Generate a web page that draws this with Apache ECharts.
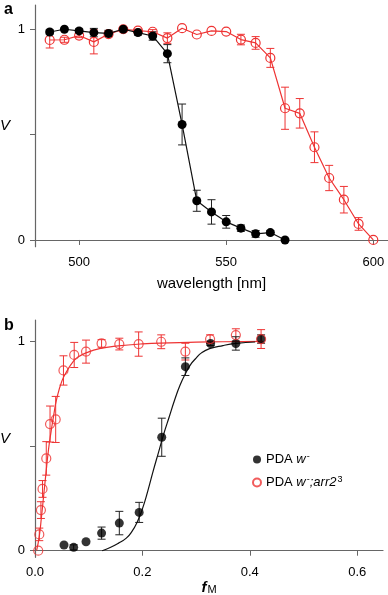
<!DOCTYPE html>
<html>
<head>
<meta charset="utf-8">
<script src="https://cdn.jsdelivr.net/npm/echarts@6/dist/echarts.min.js"></script>
<style>
  html, body { margin: 0; padding: 0; background: #fff; }
  #chart { width: 388px; height: 595px; }
</style>
</head>
<body>
<div id="chart"></div>
<script>
// panel a: spectral sensitivity
const waveA = [490, 495, 500, 505, 510, 515, 520, 525, 530, 535, 540, 545, 550, 555, 560, 565, 570, 575, 580, 585, 590, 595, 600];
const blackA = [0.987, 1.0, 0.992, 0.984, 0.98, 1.0, 0.984, 0.968, 0.884, 0.548, 0.186, 0.133, 0.086, 0.056, 0.029, 0.035, 0];
const blackAErr = [0.01, 0, 0.01, 0.02, 0.015, 0, 0.012, 0.02, 0.043, 0.097, 0.05, 0.058, 0.03, 0.015, 0.016, 0.01, 0];
const redA = [0.949, 0.95, 0.97, 0.94, 0.977, 1.0, 0.993, 0.988, 0.958, 1.005, 0.975, 0.992, 0.989, 0.951, 0.935, 0.864, 0.625, 0.601, 0.44, 0.294, 0.191, 0.076, 0];
const redAErr = [0.038, 0.012, 0.01, 0.057, 0.01, 0, 0.008, 0.01, 0.025, 0, 0, 0, 0, 0.025, 0.03, 0.045, 0.1, 0.07, 0.073, 0.06, 0.063, 0.03, 0];

// panel b: V vs fM
const fmBlack = [0.054, 0.072, 0.095, 0.124, 0.157, 0.194, 0.236, 0.28, 0.327, 0.374, 0.421];
const vBlack = [0.027, 0.016, 0.043, 0.084, 0.132, 0.183, 0.542, 0.879, 0.99, 0.99, 1.011];
const eBlack = [0, 0.012, 0, 0.029, 0.056, 0.048, 0.091, 0.042, 0.01, 0.032, 0.02];
const fmRed = [0.006, 0.008, 0.011, 0.014, 0.021, 0.028, 0.0385, 0.053, 0.073, 0.095, 0.124, 0.157, 0.193, 0.235, 0.28, 0.326, 0.374, 0.421];
const vRed = [0, 0.078, 0.194, 0.295, 0.441, 0.605, 0.627, 0.861, 0.935, 0.951, 0.99, 0.987, 0.987, 0.998, 0.951, 1.011, 1.03, 1.011];
const eRed = [0, 0.03, 0.04, 0.04, 0.08, 0.086, 0.11, 0.07, 0.06, 0.055, 0.018, 0.028, 0.058, 0.033, 0.04, 0.02, 0.03, 0.045];

// fitted curves
const fitRedX = [0.003, 0.008, 0.012, 0.016, 0.02, 0.025, 0.03, 0.035, 0.04, 0.05, 0.06, 0.07, 0.08, 0.1, 0.12, 0.15, 0.2, 0.25, 0.3, 0.35, 0.425];
const fitRedY = [0, 0.07, 0.16, 0.26, 0.36, 0.48, 0.57, 0.65, 0.72, 0.81, 0.86, 0.9, 0.925, 0.95, 0.965, 0.977, 0.988, 0.993, 0.996, 0.998, 1.0];
const fitBlackX = [0.125, 0.14, 0.155, 0.17, 0.18, 0.19, 0.2, 0.21, 0.22, 0.23, 0.24, 0.25, 0.26, 0.27, 0.28, 0.29, 0.3, 0.31, 0.325, 0.35, 0.375, 0.41];
const fitBlackY = [0, 0.015, 0.035, 0.06, 0.09, 0.135, 0.2, 0.285, 0.38, 0.47, 0.56, 0.64, 0.72, 0.79, 0.845, 0.89, 0.92, 0.945, 0.965, 0.98, 0.99, 0.997];

const ticksA = [500, 550, 600];
const ticksB = [0, 0.2, 0.4, 0.6];

const RED = '#ee3333';
const FONT = 'Liberation Sans, Arial, sans-serif';

const pairs = (xs, ys) => ys.map((y, i) => [xs[i], y]);
const errRows = (xs, ys, es) => ys.map((y, i) => [xs[i], y - es[i], y + es[i]]).filter((r, i) => es[i] > 0);

function errBars(color) {
  return function (params, api) {
    const top = api.coord([api.value(0), api.value(2)]);
    const bot = api.coord([api.value(0), api.value(1)]);
    const w = 4;
    const st = {stroke: color, lineWidth: 1};
    return {
      type: 'group',
      children: [
        {type: 'line', shape: {x1: top[0], y1: top[1], x2: bot[0], y2: bot[1]}, style: st},
        {type: 'line', shape: {x1: top[0] - w, y1: top[1], x2: top[0] + w, y2: top[1]}, style: st},
        {type: 'line', shape: {x1: bot[0] - w, y1: bot[1], x2: bot[0] + w, y2: bot[1]}, style: st}
      ]
    };
  };
}

function yAxisCfg(gridIndex, min, max) {
  return {
    gridIndex: gridIndex,
    type: 'value',
    min: min,
    max: max,
    name: 'V',
    nameLocation: 'middle',
    nameRotate: 0,
    nameGap: 25,
    nameTextStyle: {fontFamily: FONT, fontSize: 15, fontStyle: 'italic', color: '#000'},
    axisLine: {show: true, lineStyle: {color: '#666', width: 1.2}},
    axisTick: {show: true, length: 5, customValues: [0, 0.5, 1], lineStyle: {color: '#666'}},
    axisLabel: {customValues: [0, 1], margin: 10, fontFamily: FONT, fontSize: 13, color: '#000'},
    splitLine: {show: false}
  };
}

const chart = echarts.init(document.getElementById('chart'));

const option = {
  backgroundColor: '#fff',
  animation: false,
  grid: [
    {left: 35, top: 5, width: 353, height: 241.7, containLabel: false, outerBoundsMode: 'none'},
    {left: 35, top: 320, width: 348, height: 237.3, containLabel: false, outerBoundsMode: 'none'}
  ],
  xAxis: [
    {
      gridIndex: 0,
      type: 'value',
      min: 485,
      max: 605,
      name: 'wavelength [nm]',
      nameLocation: 'middle',
      nameGap: 30,
      nameTextStyle: {fontFamily: FONT, fontSize: 15, color: '#000'},
      axisLine: {onZero: true, lineStyle: {color: '#666', width: 1.2}},
      axisTick: {length: 5, customValues: ticksA, lineStyle: {color: '#666'}},
      axisLabel: {customValues: ticksA, margin: 9, fontFamily: FONT, fontSize: 13, color: '#000'},
      splitLine: {show: false}
    },
    {
      gridIndex: 1,
      type: 'value',
      min: 0,
      max: 0.648,
      name: '{i|f}{s|M}',
      nameLocation: 'middle',
      nameGap: 22,
      nameTextStyle: {
        fontFamily: FONT,
        color: '#000',
        rich: {
          i: {fontFamily: FONT, fontSize: 15, fontStyle: 'italic', fontWeight: 'bold', color: '#000', lineHeight: 15},
          s: {fontFamily: FONT, fontSize: 11, color: '#000', lineHeight: 15, verticalAlign: 'bottom', padding: [0, 0, 0, 1]}
        }
      },
      axisLine: {onZero: true, lineStyle: {color: '#666', width: 1.2}},
      axisTick: {length: 5, customValues: ticksB, lineStyle: {color: '#666'}},
      axisLabel: {customValues: ticksB, margin: 9, fontFamily: FONT, fontSize: 13, color: '#000',
        formatter: v => v.toFixed(1)},
      splitLine: {show: false}
    }
  ],
  yAxis: [yAxisCfg(0, -0.032, 1.115), yAxisCfg(1, -0.0315, 1.102)],
  legend: {
    left: 247,
    top: 447,
    orient: 'vertical',
    itemWidth: 8,
    itemHeight: 8,
    itemGap: 9,
    data: ['PDA w-', 'PDA w-;arr2 3'],
    formatter: function (name) {
      return name === 'PDA w-'
        ? 'PDA {i|w}{sup|-}'
        : 'PDA {i|w}{sup|-}{i|;arr2}{sup|3}';
    },
    textStyle: {
      fontFamily: FONT, fontSize: 13, color: '#000',
      rich: {
        i: {fontFamily: FONT, fontSize: 13, fontStyle: 'italic', color: '#000'},
        sup: {fontFamily: FONT, fontSize: 9, color: '#000', verticalAlign: 'top', padding: [0, 0, 6, 1]}
      }
    }
  },
  graphic: [
    {type: 'text', left: 4, top: 2, style: {text: 'a', font: 'bold 16px ' + FONT, fill: '#000'}},
    {type: 'text', left: 4, top: 318, style: {text: 'b', font: 'bold 16px ' + FONT, fill: '#000'}}
  ],
  series: [
    // panel a
    {
      type: 'custom', name: 'errA black', xAxisIndex: 0, yAxisIndex: 0,
      renderItem: errBars('#222'), encode: {x: 0, y: [1, 2]},
      data: errRows(waveA, blackA, blackAErr), z: 2
    },
    {
      type: 'custom', name: 'errA red', xAxisIndex: 0, yAxisIndex: 0,
      renderItem: errBars(RED), encode: {x: 0, y: [1, 2]},
      data: errRows(waveA, redA, redAErr), z: 2
    },
    {
      type: 'line', name: 'a red', xAxisIndex: 0, yAxisIndex: 0,
      data: pairs(waveA, redA),
      symbol: 'circle', symbolSize: 9,
      lineStyle: {color: RED, width: 1.2},
      itemStyle: {color: 'rgba(255,255,255,0)', borderColor: RED, borderWidth: 1.2},
      z: 3
    },
    {
      type: 'line', name: 'a black', xAxisIndex: 0, yAxisIndex: 0,
      data: pairs(waveA, blackA),
      symbol: 'circle', symbolSize: 9,
      lineStyle: {color: '#111', width: 1.2},
      itemStyle: {color: '#000', borderColor: '#000', borderWidth: 0},
      z: 4
    },
    // panel b
    {
      type: 'line', name: 'fit red', xAxisIndex: 1, yAxisIndex: 1,
      data: pairs(fitRedX, fitRedY), showSymbol: false, smooth: true,
      lineStyle: {color: RED, width: 1.2}, z: 2
    },
    {
      type: 'line', name: 'fit black', xAxisIndex: 1, yAxisIndex: 1,
      data: pairs(fitBlackX, fitBlackY), showSymbol: false, smooth: true,
      lineStyle: {color: '#111', width: 1.2}, z: 2
    },
    {
      type: 'custom', name: 'errB red', xAxisIndex: 1, yAxisIndex: 1,
      renderItem: errBars(RED), encode: {x: 0, y: [1, 2]},
      data: errRows(fmRed, vRed, eRed), z: 2
    },
    {
      type: 'custom', name: 'errB black', xAxisIndex: 1, yAxisIndex: 1,
      renderItem: errBars('#222'), encode: {x: 0, y: [1, 2]},
      data: errRows(fmBlack, vBlack, eBlack), z: 2
    },
    {
      type: 'scatter', name: 'PDA w-', xAxisIndex: 1, yAxisIndex: 1,
      data: pairs(fmBlack, vBlack), symbol: 'circle', symbolSize: 9,
      itemStyle: {color: '#000'}, z: 3
    },
    {
      type: 'scatter', name: 'PDA w-;arr2 3', xAxisIndex: 1, yAxisIndex: 1,
      data: pairs(fmRed, vRed), symbol: 'circle', symbolSize: 9,
      itemStyle: {color: 'rgba(255,255,255,0)', borderColor: RED, borderWidth: 1.2}, z: 4
    }
  ]
};

chart.setOption(option);
</script>
</body>
</html>
